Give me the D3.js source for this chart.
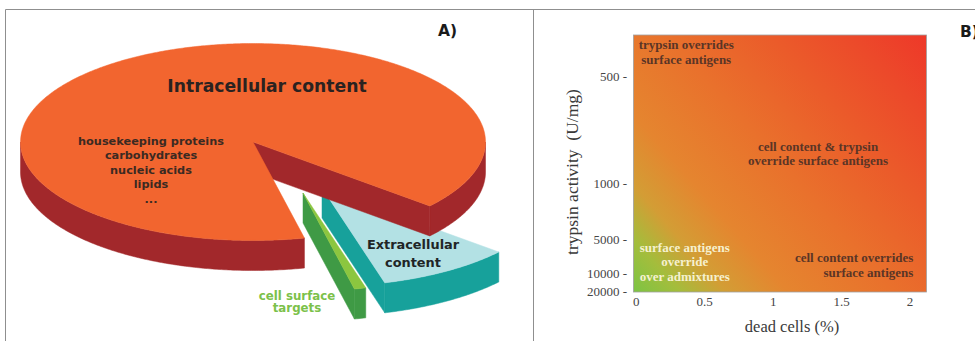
<!DOCTYPE html>
<html>
<head>
<meta charset="utf-8">
<script src="https://cdn.jsdelivr.net/npm/d3@7"></script>
<style>
  html, body { margin: 0; padding: 0; background: #fff; }
  svg { display: block; }
</style>
</head>
<body>
<svg id="chart" width="975" height="341"></svg>
<script>
// ---- Panel A: composition of the material in a cell suspension (% of total) ----
const pieLabels = ["Extracellular content", "cell surface targets", "Intracellular content"];
const pieValues = [9.4, 0.8, 89.8];
const intracellularItems = ["housekeeping proteins", "carbohydrates", "nucleic acids", "lipids", "..."];

// ---- Panel B: dominant component vs. dead cells and trypsin activity ----
const deadCellTicks = [0, 0.5, 1, 1.5, 2];
const trypsinTicks = [500, 1000, 5000, 10000, 20000];
const regionTexts = [
  ["trypsin overrides", "surface antigens"],
  ["cell content & trypsin", "override surface antigens"],
  ["cell content overrides", "surface antigens"],
  ["surface antigens", "override", "over admixtures"]
];

// ---------------------------------------------------------------------------
const svg = d3.select("#chart");

// outer frame and panel divider
const frame = svg.append("g").attr("fill", "none").attr("stroke", "#8f8f8f").attr("stroke-width", 1);
frame.append("path").attr("d", "M5.5,341V9.5H975");
frame.append("line").attr("x1", 533.5).attr("x2", 533.5).attr("y1", 9.5).attr("y2", 341);

const panelFont = "'DejaVu Sans', Verdana, sans-serif";
svg.append("text").attr("x", 438).attr("y", 35.5).text("A)")
  .attr("font-family", panelFont).attr("font-weight", "bold").attr("font-size", 15.5).attr("fill", "#1a1a1a");
svg.append("text").attr("x", 960).attr("y", 37).text("B)")
  .attr("font-family", panelFont).attr("font-weight", "bold").attr("font-size", 15.5).attr("fill", "#1a1a1a");

// ---------------- Panel A: 3D exploded pie ----------------
const pieGeom = { cx: 253, cy: 142, rx: 232.5, ry: 98.5, depth: 30 };
const explodeOffset = {
  "Extracellular content": [69, 46],
  "cell surface targets": [50, 51],
  "Intracellular content": [0, 0]
};
const topFill = {
  "Extracellular content": "#b3e1e4",
  "cell surface targets": "#8cc63f",
  "Intracellular content": "#f2652f"
};
const sideFill = {
  "Extracellular content": "#17a19b",
  "cell surface targets": "#3f9a45",
  "Intracellular content": "#a2282b"
};

const pieData = pieLabels.map((l, i) => ({ label: l, value: pieValues[i] }));
const startA = 130.5 * Math.PI / 180;
const pie = d3.pie().sort(null).value(d => d.value)
  .startAngle(startA).endAngle(startA + 2 * Math.PI);
const slices = pie(pieData);

const line = d3.line();
function rim(theta, off, dz) {
  return [pieGeom.cx + off[0] + pieGeom.rx * Math.cos(theta),
          pieGeom.cy + off[1] + pieGeom.ry * Math.sin(theta) + dz];
}
function arcPts(t0, t1, off, dz) {
  const n = Math.max(2, Math.ceil(Math.abs(t1 - t0) / 0.01));
  return d3.range(n + 1).map(i => rim(t0 + (t1 - t0) * i / n, off, dz));
}

const gPie = svg.append("g");
slices.forEach(s => {
  const lab = s.data.label;
  const off = explodeOffset[lab];
  const t0 = s.startAngle - Math.PI / 2, t1 = s.endAngle - Math.PI / 2;
  const D = pieGeom.depth;
  const c = [pieGeom.cx + off[0], pieGeom.cy + off[1]];
  const g = gPie.append("g");

  // outer curved wall: only the front half (0..π) faces the viewer
  for (let k = -1; k <= 2; k++) {
    const a = Math.max(t0, 2 * Math.PI * k), b = Math.min(t1, 2 * Math.PI * k + Math.PI);
    if (b > a) {
      const pts = arcPts(a, b, off, 0).concat(arcPts(b, a, off, D));
      g.append("path").attr("d", line(pts) + "Z").attr("fill", sideFill[lab])
        .attr("stroke", sideFill[lab]).attr("stroke-width", 0.5);
    }
  }
  // radial cut faces
  const faces = [];
  if (Math.cos(t1) > 0) faces.push(t1);
  if (Math.cos(t0) < 0) faces.push(t0);
  faces.forEach(t => {
    const p = rim(t, off, 0);
    const pts = [c, p, [p[0], p[1] + D], [c[0], c[1] + D]];
    g.append("path").attr("d", line(pts) + "Z").attr("fill", sideFill[lab])
      .attr("stroke", sideFill[lab]).attr("stroke-width", 0.5);
  });
  // top face
  const topPts = [c].concat(arcPts(t0, t1, off, 0));
  g.append("path").attr("d", line(topPts) + "Z").attr("fill", topFill[lab])
    .attr("stroke", topFill[lab]).attr("stroke-width", 0.5);
});

// pie labels
const sansBold = "'DejaVu Sans', Verdana, sans-serif";
svg.append("text").attr("x", 267).attr("y", 91.5).attr("text-anchor", "middle")
  .attr("font-family", sansBold).attr("font-weight", "bold").attr("font-size", 17.2)
  .attr("fill", "#2a2220").text(pieLabels[2]);

const items = svg.append("text").attr("text-anchor", "middle")
  .attr("font-family", sansBold).attr("font-weight", "bold").attr("font-size", 11.3)
  .attr("fill", "#3b2a22");
intracellularItems.forEach((t, i) => {
  items.append("tspan").attr("x", 151).attr("y", 144.5 + i * 14.6).text(t);
});

const extra = svg.append("text").attr("text-anchor", "middle")
  .attr("font-family", sansBold).attr("font-weight", "bold").attr("font-size", 12.9)
  .attr("fill", "#1f2526");
["Extracellular", "content"].forEach((t, i) => {
  extra.append("tspan").attr("x", 413).attr("y", 248.5 + i * 18).text(t);
});

const surf = svg.append("text").attr("text-anchor", "middle")
  .attr("font-family", sansBold).attr("font-weight", "bold").attr("font-size", 11.8)
  .attr("fill", "#7cc14a");
["cell surface", "targets"].forEach((t, i) => {
  surf.append("tspan").attr("x", 297).attr("y", 299.5 + i * 12.5).text(t);
});

// ---------------- Panel B: gradient map ----------------
const plot = { left: 633.5, top: 35, right: 926.5, bottom: 292 };
const plotH = plot.bottom - plot.top;
const trypsinTickFrac = [0.163, 0.576, 0.794, 0.926, 0.996];

const x = d3.scaleLinear().domain([-0.02, 2.12]).range([plot.left, plot.right]);
const y = d3.scaleLinear().domain(trypsinTicks)
  .range(trypsinTickFrac.map(f => plot.top + f * plotH));

const gradStops = [
  [0.00, "#7cc443"], [0.09, "#a4bd3c"], [0.18, "#d39d35"], [0.30, "#e5852f"],
  [0.50, "#e9712c"], [0.70, "#eb5b2a"], [0.86, "#ec492a"], [1.00, "#ee3829"]
];
const defs = svg.append("defs");
const grad = defs.append("linearGradient").attr("id", "mapGrad")
  .attr("gradientUnits", "userSpaceOnUse")
  .attr("x1", plot.left).attr("y1", plot.bottom)
  .attr("x2", plot.right).attr("y2", plot.top);
gradStops.forEach(s => grad.append("stop").attr("offset", s[0]).attr("stop-color", s[1]));

svg.append("rect").attr("x", plot.left).attr("y", plot.top)
  .attr("width", plot.right - plot.left).attr("height", plotH)
  .attr("fill", "url(#mapGrad)").attr("stroke", "#a0a0a0").attr("stroke-width", 0.8);

const serif = "'Liberation Serif', 'Times New Roman', serif";

// y axis: tick labels carry their own dash
const yAxis = svg.append("g").attr("font-family", serif).attr("font-size", 13).attr("fill", "#454545");
trypsinTicks.forEach(v => {
  yAxis.append("text").attr("x", 627).attr("y", y(v)).attr("dy", "0.35em")
    .attr("text-anchor", "end").text(v + " -");
});

// x axis tick labels
const xAxis = svg.append("g").attr("font-family", serif).attr("font-size", 13).attr("fill", "#454545");
deadCellTicks.forEach(v => {
  xAxis.append("text").attr("x", x(v)).attr("y", 306).attr("text-anchor", "middle").text(v);
});

svg.append("text").attr("x", 792).attr("y", 332).attr("text-anchor", "middle")
  .attr("font-family", serif).attr("font-size", 16.5).attr("fill", "#3a3a3a")
  .text("dead cells (%)");
svg.append("text").attr("transform", "translate(578,172) rotate(-90)")
  .attr("text-anchor", "middle").style("white-space", "pre")
  .attr("font-family", serif).attr("font-size", 17.5).attr("fill", "#3a3a3a")
  .text("trypsin activity  (U/mg)");

// region annotations (placed as fractions of the plot box)
const W = plot.right - plot.left;
const regionLayout = [
  { fx: 0.18, fy: 0.055, anchor: "middle", color: "#5b3526" },
  { fx: 0.63, fy: 0.45, anchor: "middle", color: "#5b3526" },
  { fx: 0.955, fy: 0.885, anchor: "end", color: "#5b3526" },
  { fx: 0.175, fy: 0.843, anchor: "middle", color: "#f6f1cf" }
];
regionTexts.forEach((lines, i) => {
  const L = regionLayout[i];
  const t = svg.append("text").attr("text-anchor", L.anchor)
    .attr("font-family", serif).attr("font-weight", "bold").attr("font-size", 13)
    .attr("fill", L.color);
  lines.forEach((s, j) => {
    t.append("tspan").attr("x", plot.left + L.fx * W)
      .attr("y", plot.top + L.fy * plotH + j * 14.7).text(s);
  });
});
</script>
</body>
</html>
